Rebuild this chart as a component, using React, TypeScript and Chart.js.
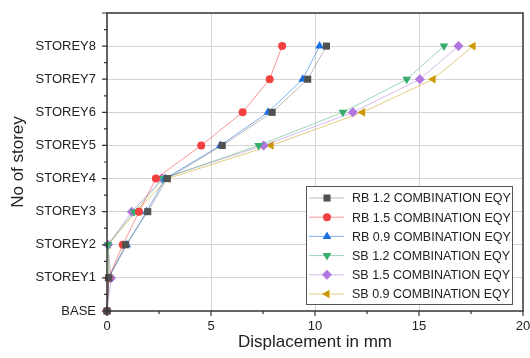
import React, { useEffect, useRef } from "react";
import { Chart, registerables } from "chart.js";
import { drawPoint } from "chart.js/helpers";

Chart.register(...registerables);

const storeyLabels = ["BASE", "STOREY1", "STOREY2", "STOREY3", "STOREY4", "STOREY5", "STOREY6", "STOREY7", "STOREY8"];
const storeyLevels = [0, 1, 2, 3, 4, 5, 6, 7, 8];

const seriesNames = [
  "RB 1.2 COMBINATION EQY",
  "RB 1.5 COMBINATION EQY",
  "RB 0.9 COMBINATION EQY",
  "SB 1.2 COMBINATION EQY",
  "SB 1.5 COMBINATION EQY",
  "SB 0.9 COMBINATION EQY",
];

const rb12 = [0, 0.08, 0.9, 1.96, 2.9, 5.54, 7.94, 9.65, 10.55];
const rb15 = [0, 0.08, 0.76, 1.54, 2.35, 4.53, 6.52, 7.82, 8.42];
const rb09 = [0, 0.08, 0.95, 1.9, 2.8, 5.45, 7.74, 9.41, 10.22];
const sb12 = [0, 0.1, 0.05, 1.3, 2.7, 7.29, 11.34, 14.41, 16.2];
const sb15 = [0, 0.2, 0.05, 1.19, 2.65, 7.53, 11.82, 15.04, 16.9];
const sb09 = [0, 0.1, 0.05, 1.4, 2.92, 7.89, 12.29, 15.68, 17.6];

const seriesValues = [rb12, rb15, rb09, sb12, sb15, sb09];
const seriesColors = ["#515151", "#F14040", "#1A6FDF", "#37AD6B", "#B177DE", "#CC9900"];
const lineColors = ["rgba(81,81,81,0.4)", "rgba(241,64,64,0.55)", "rgba(26,111,223,0.55)", "rgba(55,173,107,0.5)", "rgba(177,119,222,0.5)", "rgba(204,153,0,0.5)"];
const pointStyles = ["rect", "circle", "triangle", "triangle", "rectRot", "triangle"];
const pointRotations = [0, 0, 0, 180, 0, -90];
const pointRadii = [5, 4, 5, 5, 5, 5];

const xTicks = [0, 5, 10, 15, 20];

const framePlugin = {
  id: "framePlugin",
  afterDatasetsDraw(chart: any) {
    const { ctx, chartArea } = chart;
    const xs = chart.scales.x;
    const ys = chart.scales.y;
    const { left, right, top, bottom } = chartArea;
    ctx.save();
    ctx.strokeStyle = "#333";
    ctx.lineWidth = 1.5;
    ctx.strokeRect(left, top, right - left, bottom - top);
    ctx.lineWidth = 1.2;
    ctx.beginPath();
    for (let v = 0; v <= 20.001; v += 2.5) {
      const px = xs.getPixelForValue(v);
      const len = Math.abs(v % 5) < 0.01 ? 5 : 3;
      ctx.moveTo(px, bottom);
      ctx.lineTo(px, bottom + len);
    }
    for (let v = 0; v <= 9.001; v += 0.5) {
      const py = ys.getPixelForValue(v);
      const len = Math.abs(v % 1) < 0.01 ? 5 : 3;
      ctx.moveTo(left, py);
      ctx.lineTo(left - len, py);
    }
    ctx.stroke();

    // legend
    const lx = 306, ly = 186, lw = 206, lh = 118;
    ctx.fillStyle = "#fff";
    ctx.fillRect(lx, ly, lw, lh);
    ctx.strokeStyle = "#555";
    ctx.lineWidth = 1;
    ctx.strokeRect(lx + 0.5, ly + 0.5, lw, lh);
    chart.data.datasets.forEach((ds: any, i: number) => {
      const cy = ly + 12 + i * 19.2;
      ctx.strokeStyle = ds.borderColor;
      ctx.lineWidth = 1;
      ctx.beginPath();
      ctx.moveTo(lx + 3, cy);
      ctx.lineTo(lx + 38, cy);
      ctx.stroke();
      ctx.fillStyle = ds.pointBackgroundColor;
      ctx.strokeStyle = ds.pointBackgroundColor;
      drawPoint(ctx, { pointStyle: ds.pointStyle, rotation: ds.pointRotation, radius: ds.pointRadius, borderWidth: 0 }, lx + 21, cy);
      ctx.fillStyle = "#222";
      ctx.font = "12.5px 'Liberation Sans', Arial, sans-serif";
      ctx.textAlign = "left";
      ctx.textBaseline = "middle";
      ctx.fillText(ds.label, lx + 46, cy + 1);
    });
    ctx.restore();
  },
};

export default function App() {
  const ref = useRef<HTMLCanvasElement>(null);
  useEffect(() => {
    document.body.style.margin = "0";
    const datasets = seriesValues.map((vals, i) => ({
      label: seriesNames[i],
      data: vals.map((v, j) => ({ x: v, y: storeyLevels[j] })),
      showLine: true,
      borderColor: lineColors[i],
      borderWidth: 1,
      backgroundColor: seriesColors[i],
      pointBackgroundColor: seriesColors[i],
      pointBorderColor: seriesColors[i],
      pointBorderWidth: 0,
      pointStyle: pointStyles[i],
      pointRotation: pointRotations[i],
      pointRadius: pointRadii[i],
      clip: false,
    }));
    const chart = new Chart(ref.current!, {
      type: "scatter",
      data: { datasets },
      options: {
        animation: false,
        responsive: false,
        layout: { padding: { top: 13, right: 7, left: 0, bottom: 0 } },
        plugins: { legend: { display: false }, tooltip: { enabled: false } },
        scales: {
          x: {
            type: "linear",
            min: 0,
            max: 20,
            afterFit: (s: any) => { s.height = 47; s.paddingLeft = 0; s.paddingRight = 0; },
            ticks: {
              stepSize: 5,
              padding: 8,
              color: "#222",
              font: { size: 13, family: "'Liberation Sans', Arial, sans-serif" },
              callback: (v: any) => (xTicks.includes(v) ? String(v) : ""),
            },
            grid: {
              drawTicks: false,
              color: (c: any) => (c.tick && (c.tick.value === 0 || c.tick.value === 20) ? "rgba(0,0,0,0)" : "#d4d4d4"),
              lineWidth: 1,
            },
            border: { display: false },
            title: {
              display: true,
              text: "Displacement in mm",
              color: "#222",
              font: { size: 17, family: "'Liberation Sans', Arial, sans-serif" },
              padding: { top: 0, bottom: 5 },
            },
          },
          y: {
            type: "linear",
            min: 0,
            max: 9,
            afterFit: (s: any) => { s.width = 107; s.paddingTop = 0; s.paddingBottom = 0; },
            ticks: {
              stepSize: 1,
              padding: 11,
              color: "#222",
              font: { size: 13, family: "'Liberation Sans', Arial, sans-serif" },
              callback: (v: any) => (storeyLabels[v] !== undefined ? storeyLabels[v] : ""),
            },
            grid: {
              drawTicks: false,
              color: (c: any) => (c.tick && (c.tick.value === 0 || c.tick.value === 9) ? "rgba(0,0,0,0)" : "#d4d4d4"),
              lineWidth: 1,
            },
            border: { display: false },
            title: {
              display: true,
              text: "No of storey",
              color: "#222",
              font: { size: 17, family: "'Liberation Sans', Arial, sans-serif" },
              padding: { top: 8, bottom: 0 },
            },
          },
        },
      },
      plugins: [framePlugin],
    });
    return () => chart.destroy();
  }, []);
  return (
    <div style={{ width: 530, height: 358 }}>
      <canvas ref={ref} width={530} height={358} />
    </div>
  );
}
